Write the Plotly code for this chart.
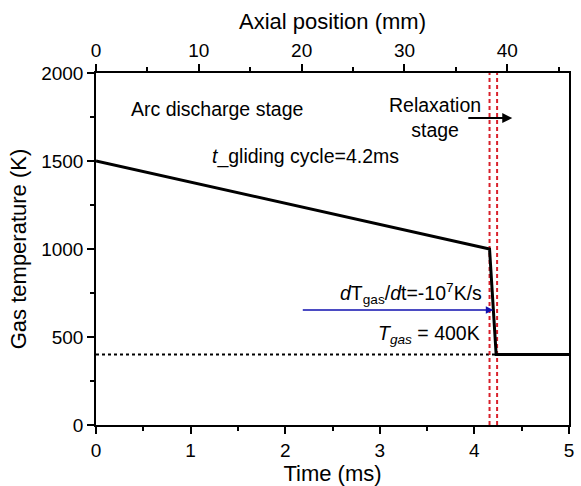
import plotly.graph_objects as go

# Gas temperature profile over one gliding cycle
time_ms = [0.0, 4.16, 4.23, 5.0]
temp_K = [1500, 1000, 400, 400]

# Stage boundaries (ms)
boundary_ms = [4.16, 4.24]

# Post-relaxation gas temperature
t_gas_relax = 400

# Axial position scale: 0..46 mm spans 0..5 ms
axial_range_mm = [0, 46]
time_range_ms = [0, 5]
temp_range_K = [0, 2000]

FONT = "Liberation Sans, Arial, sans-serif"

fig = go.Figure()

# Dotted reference at the relaxed temperature
fig.add_trace(go.Scatter(
    x=[0, time_ms[2]], y=[t_gas_relax, t_gas_relax], mode="lines",
    line=dict(color="black", width=2, dash="dot"), showlegend=False,
    hoverinfo="skip"))

# Stage boundary markers
for b in boundary_ms:
    fig.add_trace(go.Scatter(
        x=[b, b], y=temp_range_K, mode="lines",
        line=dict(color="#d9202a", width=2, dash="4px,3px"), showlegend=False,
        hoverinfo="skip"))

# Temperature curve
fig.add_trace(go.Scatter(
    x=time_ms, y=temp_K, mode="lines",
    line=dict(color="black", width=3), showlegend=False))

# Invisible trace to carry the top axis
fig.add_trace(go.Scatter(
    x=axial_range_mm, y=temp_range_K, xaxis="x2", mode="markers",
    marker=dict(opacity=0), showlegend=False, hoverinfo="skip"))

tick_font = dict(family=FONT, size=19, color="black")
title_font = dict(family=FONT, size=22, color="black")

fig.update_layout(
    width=581, height=486,
    margin=dict(l=96, r=7, t=73, b=61),
    paper_bgcolor="white", plot_bgcolor="white",
    font=dict(family=FONT, color="black"),
    xaxis=dict(
        range=time_range_ms, dtick=1, tick0=0,
        showline=True, linecolor="black", linewidth=1.5,
        ticks="outside", ticklen=7, tickwidth=1.5, tickcolor="black",
        minor=dict(dtick=0.5, ticks="outside", ticklen=4, tickwidth=1.5,
                   tickcolor="black"),
        showgrid=False, zeroline=False, tickfont=tick_font,
        title=dict(text="Time (ms)", font=title_font, standoff=2),
    ),
    xaxis2=dict(
        range=axial_range_mm, dtick=10, tick0=0, overlaying="x", side="top",
        anchor="y",
        showline=True, linecolor="black", linewidth=1.5,
        ticks="outside", ticklen=7, tickwidth=1.5, tickcolor="black",
        minor=dict(dtick=5, ticks="outside", ticklen=4, tickwidth=1.5,
                   tickcolor="black"),
        showgrid=False, zeroline=False, tickfont=tick_font,
        title=dict(text="Axial position (mm)", font=title_font, standoff=4),
    ),
    yaxis=dict(
        range=temp_range_K, dtick=500, tick0=0,
        showline=True, mirror=True, linecolor="black", linewidth=1.5,
        ticks="outside", ticklen=7, tickwidth=1.5, tickcolor="black",
        minor=dict(dtick=250, ticks="outside", ticklen=4, tickwidth=1.5,
                   tickcolor="black"),
        showgrid=False, zeroline=False, tickfont=tick_font,
        title=dict(text="Gas temperature (K)", font=title_font, standoff=8),
    ),
)

ann_font = dict(family=FONT, size=19.5, color="black")

fig.add_annotation(x=1.28, y=1795, text="Arc discharge stage", showarrow=False,
                   font=ann_font)
fig.add_annotation(x=2.21, y=1523, text="<i>t</i>_gliding cycle=4.2ms",
                   showarrow=False, font=ann_font)
fig.add_annotation(x=3.58, y=1750, text="Relaxation<br>stage",
                   showarrow=False, font=ann_font)
fig.add_annotation(
    x=3.33, y=750,
    text="<i>d</i>T<sub>gas</sub>/<i>d</i>t=-10<sup>7</sup>K/s",
    showarrow=False, font=ann_font)
fig.add_annotation(x=3.52, y=515, text="<i>T<sub>gas</sub></i> = 400K",
                   showarrow=False, font=ann_font)

# Arrow pointing into the relaxation stage
fig.add_annotation(x=4.40, y=1744, ax=3.92, ay=1744, xref="x", yref="y",
                   axref="x", ayref="y", text="", showarrow=True,
                   arrowhead=2, arrowsize=1, arrowwidth=2, arrowcolor="black")

# Arrow marking the cooling-rate segment
fig.add_annotation(x=4.2, y=653, ax=2.17, ay=653, xref="x", yref="y",
                   axref="x", ayref="y", text="", showarrow=True,
                   arrowhead=2, arrowsize=1, arrowwidth=1.5,
                   arrowcolor="#1010b0")

fig.write_html("out.html")
